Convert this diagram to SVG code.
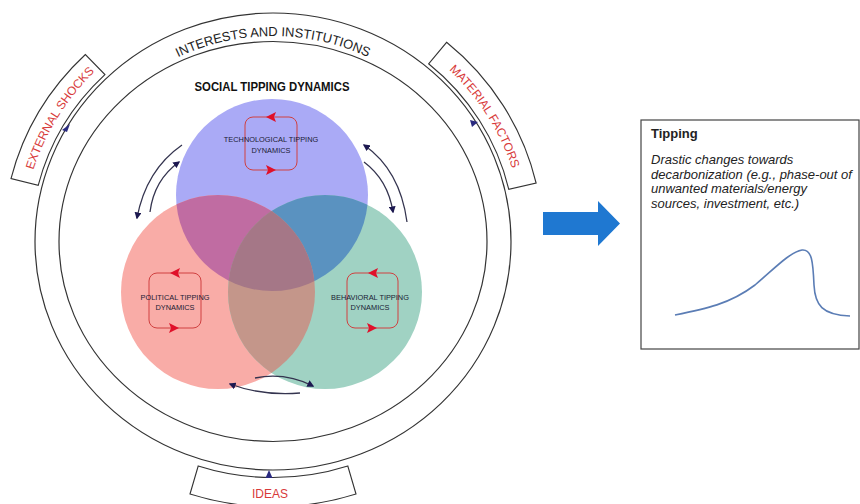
<svg xmlns="http://www.w3.org/2000/svg" width="860" height="504" viewBox="0 0 860 504">
<defs>
<style>
.ring{fill:none;stroke:#333;stroke-width:1.2}
.box{fill:#fff;stroke:#333;stroke-width:1.1}
.red{font-family:"Liberation Sans",Arial,sans-serif;font-size:12px;fill:#d83a3a}
.lbl{font-family:"Liberation Sans",Arial,sans-serif;font-size:7.4px;fill:#1a1a33;text-anchor:middle}
.loop{fill:none;stroke:#d04040;stroke-width:1}
.rh{fill:#e0102a}
.nav{fill:none;stroke:#34344f;stroke-width:1.3;marker-end:url(#nh)}
.tip{font-family:"Liberation Sans",Arial,sans-serif;font-size:13px;fill:#222}
.tri{fill:#2a2a80}
</style>
<marker id="nh" viewBox="0 0 10 10" refX="8" refY="5" markerWidth="7" markerHeight="7" orient="auto" markerUnits="userSpaceOnUse">
<path d="M0,0 L10,5 L0,10 z" fill="#1c1850"/>
</marker>
<path id="arcTxt" d="M149.7,73.2 A215,205.5 0 0 1 396.3,73.2"/>
<path id="esTxt" d="M31.7,175.1 A251,241 0 0 1 98.6,68.1"/>
<path id="mfTxt" d="M437.7,59.6 A251,241 0 0 1 516.5,183.2"/>
<clipPath id="cB"><circle cx="272" cy="195" r="96"/></clipPath>
<clipPath id="cP"><circle cx="218" cy="292" r="97"/></clipPath>
</defs>
<rect width="860" height="504" fill="#fff"/>

<g id="rings">
<ellipse class="ring" cx="273" cy="241.5" rx="238" ry="228.5"/>
<ellipse class="ring" cx="273" cy="241.5" rx="214" ry="200"/>
<text font-family="Liberation Sans,Arial,sans-serif" font-size="13" fill="#222"><textPath href="#arcTxt" startOffset="50%" text-anchor="middle" textLength="196" lengthAdjust="spacingAndGlyphs">INTERESTS AND INSTITUTIONS</textPath></text>
</g>

<g id="external-shocks">
<path class="box" d="M38.2,185.4 A242,232 0 0 1 104.9,74.6 L85.4,54.5 A270,260 0 0 0 11,178.6 Z"/>
<text class="red"><textPath href="#esTxt" startOffset="50%" text-anchor="middle">EXTERNAL SHOCKS</textPath></text>
<path class="tri" d="M62,130 L70,124 L67,132 z"/>
</g>

<g id="material-factors">
<path class="box" d="M428.6,63.8 A242,232 0 0 1 508.8,189.3 L536.1,183 A270,260 0 0 0 446.6,42.3 Z"/>
<text class="red"><textPath href="#mfTxt" startOffset="50%" text-anchor="middle">MATERIAL FACTORS</textPath></text>
<path class="tri" d="M470,120 L478,122 L472,127 z"/>
</g>

<g id="ideas">
<path class="box" d="M198.2,466 A242,236 0 0 0 347.8,466 L356,494 A270,264 0 0 1 190,494 Z"/>
<text class="red" x="270" y="498" text-anchor="middle">IDEAS</text>
<path class="tri" d="M265.5,478 L269,470 L272.5,478 z"/>
</g>

<text id="social-title" x="272" y="91" font-family="Liberation Sans,Arial,sans-serif" font-size="12" font-weight="bold" fill="#111" text-anchor="middle" textLength="155" lengthAdjust="spacingAndGlyphs">SOCIAL TIPPING DYNAMICS</text>

<g id="venn">
<circle id="technological" cx="272" cy="195" r="96" fill="#aaaaf6"/>
<circle id="political" cx="218" cy="292" r="97" fill="#f9aca7"/>
<circle id="behavioral" cx="325" cy="292" r="97" fill="#a0d2c3"/>
<circle cx="218" cy="292" r="97" fill="#c06ca2" clip-path="url(#cB)"/>
<circle cx="325" cy="292" r="97" fill="#5a92c0" clip-path="url(#cB)"/>
<circle cx="325" cy="292" r="97" fill="#c4968a" clip-path="url(#cP)"/>
<g clip-path="url(#cB)"><circle cx="325" cy="292" r="97" fill="#a57787" clip-path="url(#cP)"/></g>
</g>

<g id="tech-loop">
<rect class="loop" x="245" y="117" width="52" height="53" rx="8"/>
<path class="rh" d="M266,117 L276,112 L274,117 L276,122 z"/>
<path class="rh" d="M276,170 L266,165 L268,170 L266,175 z"/>
<text class="lbl" x="271" y="142">TECHNOLOGICAL TIPPING</text>
<text class="lbl" x="271" y="153">DYNAMICS</text>
</g>

<g id="political-loop">
<rect class="loop" x="149" y="273" width="52" height="55" rx="8"/>
<path class="rh" d="M170,273 L180,268 L178,273 L180,278 z"/>
<path class="rh" d="M179,328 L169,323 L171,328 L169,333 z"/>
<text class="lbl" x="175" y="300">POLITICAL TIPPING</text>
<text class="lbl" x="175" y="310">DYNAMICS</text>
</g>

<g id="behavioral-loop">
<rect class="loop" x="347" y="273" width="51" height="55" rx="8"/>
<path class="rh" d="M368,273 L378,268 L376,273 L378,278 z"/>
<path class="rh" d="M377,328 L367,323 L369,328 L367,333 z"/>
<text class="lbl" x="370" y="300">BEHAVIORAL TIPPING</text>
<text class="lbl" x="370" y="310">DYNAMICS</text>
</g>

<g id="connectors">
<path class="nav" d="M182,145 Q146,170 137,218"/>
<path class="nav" d="M150,212 Q154,180 179,162"/>
<path class="nav" d="M407,222 Q400,170 364,145"/>
<path class="nav" d="M364,162 Q388,180 393,212"/>
<path class="nav" d="M255,378 Q285,372 313,386"/>
<path class="nav" d="M300,393 Q262,396 230,384"/>
</g>

<path id="big-arrow" d="M543,212 L598,212 L598,201 L620,223.5 L598,246 L598,235 L543,235 Z" fill="#1f78d1"/>

<g id="tipping">
<rect x="641" y="120" width="218" height="229" fill="#fff" stroke="#444" stroke-width="1.2"/>
<text class="tip" x="651" y="138" font-size="12.5" font-weight="bold">Tipping</text>
<text class="tip" font-style="italic">
<tspan x="651" y="164">Drastic changes towards</tspan>
<tspan x="651" y="178.5">decarbonization (e.g., phase-out of</tspan>
<tspan x="651" y="193">unwanted materials/energy</tspan>
<tspan x="651" y="207.5">sources, investment, etc.)</tspan>
</text>
<path d="M675,315 C705,309 730,304 755,285 C775,268 790,252 802,250 C812,249 813,262 814,285 C815,305 822,315 850,316" fill="none" stroke="#5b7db5" stroke-width="1.6"/>
</g>
</svg>
